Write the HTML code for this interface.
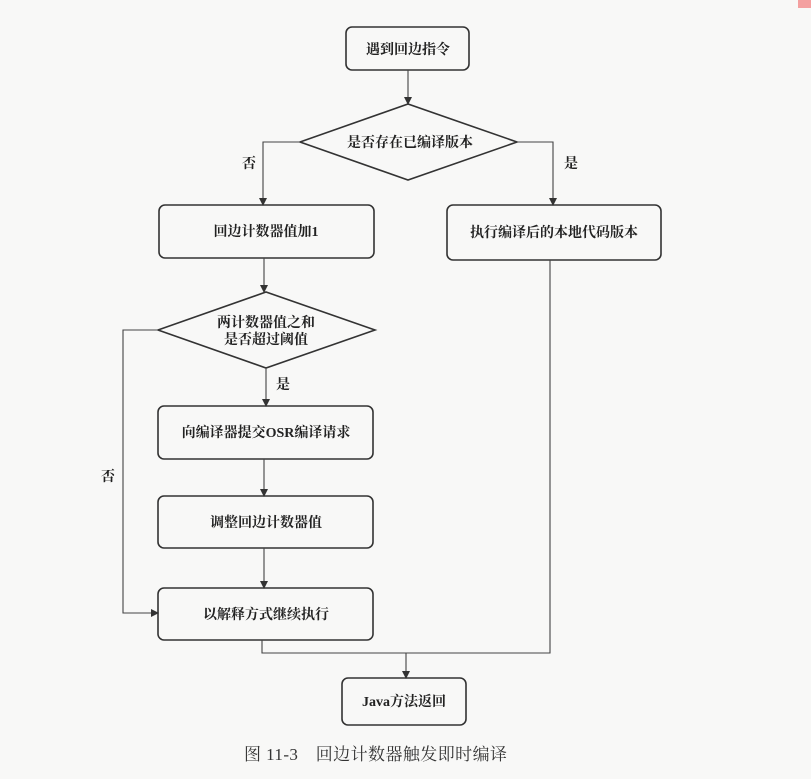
<!DOCTYPE html>
<html><head><meta charset="utf-8"><style>
html,body{margin:0;padding:0;background:#f8f8f7;}
svg text{font-family:"Liberation Serif","Noto Serif CJK SC",serif;font-size:14px;font-weight:bold;fill:#222;}
</style></head><body>
<svg width="811" height="774" viewBox="0 0 811 774" xmlns="http://www.w3.org/2000/svg">
<defs><marker id="a" markerWidth="8" markerHeight="8" refX="7" refY="4" orient="auto" markerUnits="userSpaceOnUse"><path d="M0,0 L8,4 L0,8 z" fill="#333"/></marker></defs>
<rect x="798" y="0" width="13" height="8" fill="#f4a0a0"/>
<g fill="none" stroke="#333" stroke-width="1.6">
<rect x="346" y="27" width="123" height="43" rx="6"/>
<polygon points="300,142 408,104 517,142 408,180"/>
<rect x="159" y="205" width="215" height="53" rx="6"/>
<rect x="447" y="205" width="214" height="55" rx="6"/>
<polygon points="158,330 266,292 375,330 266,368"/>
<rect x="158" y="406" width="215" height="53" rx="6"/>
<rect x="158" y="496" width="215" height="52" rx="6"/>
<rect x="158" y="588" width="215" height="52" rx="6"/>
<rect x="342" y="678" width="124" height="47" rx="6"/>
</g>
<g fill="none" stroke="#444" stroke-width="1.1">
<line x1="408" y1="70" x2="408" y2="104" marker-end="url(#a)"/>
<polyline points="300,142 263,142 263,205" marker-end="url(#a)"/>
<polyline points="517,142 553,142 553,205" marker-end="url(#a)"/>
<line x1="264" y1="258" x2="264" y2="292" marker-end="url(#a)"/>
<line x1="266" y1="368" x2="266" y2="406" marker-end="url(#a)"/>
<line x1="264" y1="459" x2="264" y2="496" marker-end="url(#a)"/>
<line x1="264" y1="548" x2="264" y2="588" marker-end="url(#a)"/>
<polyline points="158,330 123,330 123,613 158,613" marker-end="url(#a)"/>
<polyline points="262,640 262,653 550,653 550,260"/>
<line x1="406" y1="653" x2="406" y2="678" marker-end="url(#a)"/>
</g>
<g text-anchor="middle">
<text x="408" y="54">遇到回边指令</text>
<text x="410" y="147">是否存在已编译版本</text>
<text x="266" y="236">回边计数器值加1</text>
<text x="554" y="237">执行编译后的本地代码版本</text>
<text x="266" y="327">两计数器值之和</text>
<text x="266" y="344">是否超过阈值</text>
<text x="266" y="437">向编译器提交OSR编译请求</text>
<text x="266" y="527">调整回边计数器值</text>
<text x="266" y="619">以解释方式继续执行</text>
<text x="404" y="706">Java方法返回</text>
<text x="249" y="168">否</text>
<text x="571" y="168">是</text>
<text x="283" y="389">是</text>
<text x="108" y="481">否</text>
</g>
<text x="244" y="760" textLength="263" lengthAdjust="spacing" style="font-weight:normal;font-size:17px;fill:#333">图 11-3　回边计数器触发即时编译</text>
</svg>
</body></html>
